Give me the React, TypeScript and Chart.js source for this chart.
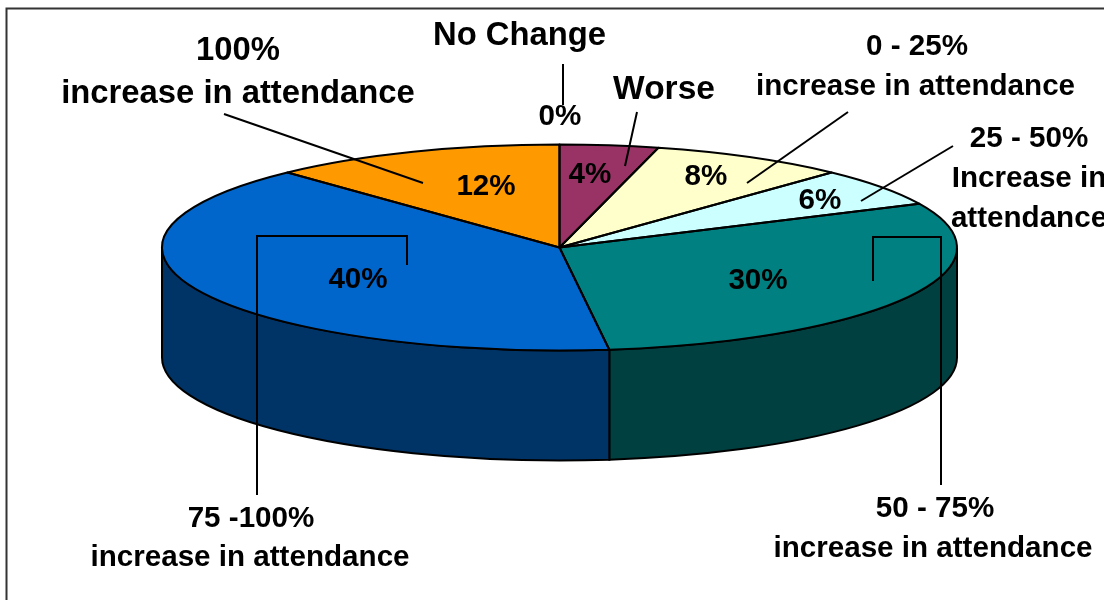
import React, { useEffect, useRef } from "react";
import { Chart, registerables } from "chart.js";

Chart.register(...registerables);

const categories = ["No Change", "Worse", "0 - 25%", "25 - 50%", "50 - 75%", "75 -100%", "100%"];
const values = [0, 4, 8, 6, 30, 40, 12];
const topColors = ["#FFFFFF", "#993366", "#FFFFCC", "#CCFFFF", "#008080", "#0066CC", "#FF9900"];
const sideColors = ["#808080", "#4D1A33", "#808066", "#668080", "#004040", "#003366", "#804D00"];

const FONT = '"Liberation Sans", Arial, sans-serif';
const SIZE_L = 32.8;
const SIZE_M = 29.6;
const LINE = 2;

// Tilt of the flat pie, and extrusion depth
const SCALE_X = 397.5 / 247.5;
const SCALE_Y = 103 / 247.5;
const DEPTH = 110;

const percentLabelPos = [
  [560, 125],
  [590, 183],
  [706, 185],
  [820, 209],
  [758, 289],
  [358, 288],
  [486, 195],
];

const captions: [string, number, number, number][] = [
  ["100%", 238, 60, SIZE_L],
  ["increase in attendance", 238, 103, SIZE_L],
  ["No Change", 519.5, 45, SIZE_L],
  ["Worse", 664, 99, 33.5],
  ["0 - 25%", 917, 55, SIZE_M],
  ["increase in attendance", 915.5, 95, SIZE_M],
  ["25 - 50%", 1029, 147, SIZE_M],
  ["Increase in", 1029, 187, SIZE_M],
  ["attendance", 1029, 227, SIZE_M],
  ["50 - 75%", 935, 517, SIZE_M],
  ["increase in attendance", 933, 557, SIZE_M],
  ["75 -100%", 251, 527, SIZE_M],
  ["increase in attendance", 250, 566, SIZE_M],
];

const leaders = [
  [[563, 64], [563, 105]],
  [[637, 112], [625, 166]],
  [[848, 112], [747, 183]],
  [[953, 146], [861, 201]],
  [[873, 281], [873, 237], [941, 237], [941, 485]],
  [[407, 265], [407, 236], [257, 236], [257, 495]],
  [[224, 114], [423, 183]],
];

const pie3d = {
  id: "pie3d",
  beforeDatasetsDraw(chart: any) {
    const ctx = chart.ctx;
    const arcs = chart.getDatasetMeta(0).data;
    // Extruded rim
    arcs.forEach((arc: any, i: number) => {
      const a0 = Math.max(arc.startAngle, 0);
      const a1 = Math.min(arc.endAngle, Math.PI);
      if (a1 <= a0) return;
      const rx = arc.outerRadius * SCALE_X;
      const ry = arc.outerRadius * SCALE_Y;
      ctx.save();
      ctx.beginPath();
      ctx.ellipse(arc.x, arc.y, rx, ry, 0, a0, a1);
      ctx.ellipse(arc.x, arc.y + DEPTH, rx, ry, 0, a1, a0, true);
      ctx.closePath();
      ctx.fillStyle = sideColors[i];
      ctx.fill();
      ctx.strokeStyle = "#000";
      ctx.lineWidth = LINE;
      ctx.stroke();
      ctx.restore();
    });
    const first = arcs[0];
    ctx.save();
    ctx.translate(first.x, first.y);
    ctx.scale(SCALE_X, SCALE_Y);
    ctx.translate(-first.x, -first.y);
  },
  afterDatasetsDraw(chart: any) {
    const ctx = chart.ctx;
    ctx.restore();
    const arcs = chart.getDatasetMeta(0).data;
    // Slice outlines at a uniform width
    arcs.forEach((arc: any) => {
      if (arc.endAngle - arc.startAngle <= 0) return;
      ctx.save();
      ctx.beginPath();
      ctx.moveTo(arc.x, arc.y);
      ctx.ellipse(arc.x, arc.y, arc.outerRadius * SCALE_X, arc.outerRadius * SCALE_Y, 0, arc.startAngle, arc.endAngle);
      ctx.closePath();
      ctx.strokeStyle = "#000";
      ctx.lineWidth = LINE;
      ctx.lineJoin = "round";
      ctx.stroke();
      ctx.restore();
    });

    ctx.save();
    // Frame
    ctx.strokeStyle = "#333";
    ctx.lineWidth = 2;
    ctx.beginPath();
    ctx.moveTo(6.5, 600);
    ctx.lineTo(6.5, 8.5);
    ctx.lineTo(1104, 8.5);
    ctx.stroke();
    // Leader lines
    ctx.strokeStyle = "#000";
    ctx.lineWidth = LINE;
    leaders.forEach((pts) => {
      ctx.beginPath();
      pts.forEach(([x, y], k) => (k ? ctx.lineTo(x, y) : ctx.moveTo(x, y)));
      ctx.stroke();
    });
    // Text
    ctx.fillStyle = "#000";
    ctx.textAlign = "center";
    ctx.textBaseline = "alphabetic";
    ctx.font = `bold ${SIZE_M}px ${FONT}`;
    values.forEach((v, i) => {
      const [x, y] = percentLabelPos[i];
      ctx.fillText(`${v}%`, x, y);
    });
    captions.forEach(([t, x, y, s]) => {
      ctx.font = `bold ${s}px ${FONT}`;
      ctx.fillText(t, x, y);
    });
    ctx.restore();
  },
};

export default function App() {
  const ref = useRef<HTMLCanvasElement>(null);
  useEffect(() => {
    const chart = new Chart(ref.current as HTMLCanvasElement, {
      type: "pie",
      data: {
        labels: categories,
        datasets: [
          {
            data: values,
            backgroundColor: topColors,
            borderWidth: 0,
            clip: false,
          } as any,
        ],
      },
      options: {
        responsive: false,
        animation: false,
        rotation: 0,
        layout: { padding: { left: 15, bottom: 105 } },
        plugins: { legend: { display: false }, tooltip: { enabled: false } },
      },
      plugins: [pie3d],
    });
    return () => chart.destroy();
  }, []);
  return (
    <div style={{ position: "fixed", left: 0, top: 0, width: 1104, height: 600, background: "#fff", overflow: "hidden" }}>
      <canvas ref={ref} width={1104} height={600} style={{ display: "block" }} />
    </div>
  );
}
